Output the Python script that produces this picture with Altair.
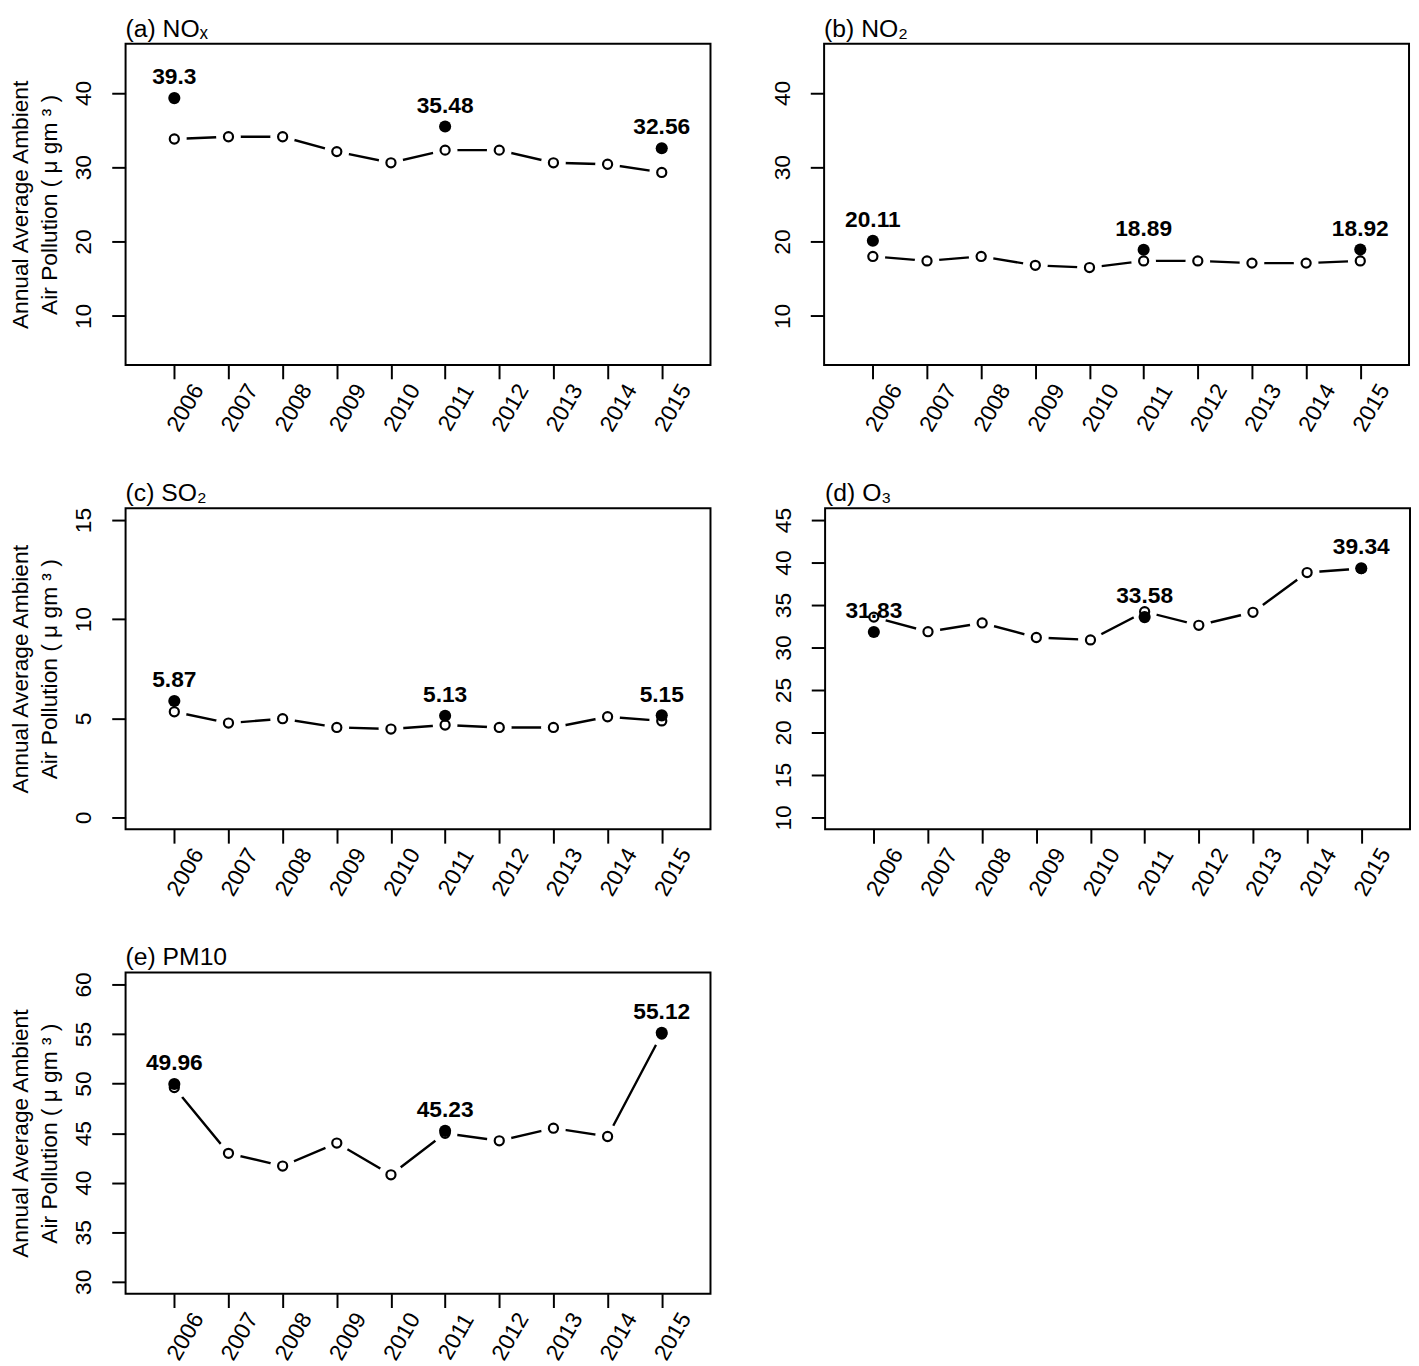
import altair as alt
import pandas as pd

FONT = "Liberation Sans"

years = list(range(2006, 2016))
peak_years = [2006, 2011, 2015]

nox_values = [33.8, 34.1, 34.1, 32.1, 30.6, 32.3, 32.3, 30.6, 30.4, 29.3]
nox_peaks = [39.3, 35.48, 32.56]

no2_values = [18.0, 17.4, 18.0, 16.8, 16.5, 17.4, 17.4, 17.1, 17.1, 17.4]
no2_peaks = [20.11, 18.89, 18.92]

so2_values = [5.33, 4.76, 4.98, 4.54, 4.46, 4.66, 4.54, 4.54, 5.08, 4.87]
so2_peaks = [5.87, 5.13, 5.15]

o3_values = [33.58, 31.86, 32.89, 31.18, 30.9, 34.22, 32.62, 34.15, 38.83, 39.3]
o3_peaks = [31.83, 33.58, 39.34]

pm10_values = [49.6, 42.96, 41.68, 44.0, 40.8, 44.98, 44.23, 45.5, 44.66, 55.0]
pm10_peaks = [49.96, 45.23, 55.12]

Y_TITLE = ["Annual Average Ambient", "Air Pollution ( \u03bc gm \u00b3 )"]


def panel(title, values, peaks, ydomain, yticks, show_ytitle):
    df = pd.DataFrame({"year": years, "value": values})
    pk = pd.DataFrame({"year": peak_years, "value": peaks,
                       "label": [f"{v:g}" for v in peaks]})
    x = alt.X("year:Q",
              scale=alt.Scale(domain=[2005.1, 2015.9], nice=False, zero=False),
              axis=alt.Axis(values=years, format="d", labelAngle=300,
                            labelAlign="center", labelBaseline="middle",
                            labelPadding=29, labelOffset=11),
              title=None)
    yaxis = alt.Axis(values=yticks, labelAngle=270, labelAlign="center",
                     labelBaseline="bottom", labelPadding=16)
    if show_ytitle:
        y = alt.Y("value:Q", scale=alt.Scale(domain=ydomain, nice=False, zero=False),
                  axis=yaxis, title=Y_TITLE)
    else:
        y = alt.Y("value:Q", scale=alt.Scale(domain=ydomain, nice=False, zero=False),
                  axis=yaxis, title=None)
    base = alt.Chart(df).encode(x=x, y=y)
    line = base.mark_line(color="black", strokeWidth=2.4)
    # white halo to leave the gaps between line and points (R type = "b")
    halo = base.mark_point(shape="circle", filled=True, fill="white",
                           strokeOpacity=0, size=625, opacity=1, fillOpacity=1)
    opn = base.mark_point(shape="circle", filled=False, stroke="black",
                          strokeWidth=2.2, size=85, opacity=1)
    pkbase = alt.Chart(pk).encode(x=x, y=y)
    filled = pkbase.mark_circle(color="black", size=150, opacity=1)
    text = pkbase.mark_text(font=FONT, fontSize=23, fontWeight="bold",
                            color="black", dy=-14, baseline="alphabetic").encode(
        text="label:N")
    return alt.layer(line, halo, opn, filled, text).properties(
        width=592, height=325, title=title)


a = panel("(a) NO\u2093", nox_values, nox_peaks, [3.4, 46.6], [10, 20, 30, 40], True)
b = panel("(b) NO\u2082", no2_values, no2_peaks, [3.4, 46.6], [10, 20, 30, 40], False)
c = panel("(c) SO\u2082", so2_values, so2_peaks, [-0.6, 15.6], [0, 5, 10, 15], True)
d = panel("(d) O\u2083", o3_values, o3_peaks, [8.6, 46.4],
          [10, 15, 20, 25, 30, 35, 40, 45], False)
e = panel("(e) PM10", pm10_values, pm10_peaks, [28.8, 61.2],
          [30, 35, 40, 45, 50, 55, 60], True)

chart = alt.vconcat(
    alt.hconcat(a, b, spacing=60),
    alt.hconcat(c, d, spacing=60),
    e,
    spacing=43,
).properties(padding=0, background="white").configure_view(
    stroke="black", strokeWidth=2
).configure_axis(
    domain=False, grid=False, ticks=True, tickColor="black", tickWidth=2,
    tickSize=14, labelFont=FONT, labelFontSize=23, labelColor="black",
    titleFont=FONT, titleFontSize=23, titleFontWeight="normal",
    titleColor="black", titlePadding=12, titleLineHeight=29
).configure_title(
    font=FONT, fontSize=25, fontWeight="normal", color="black",
    anchor="start", frame="group", offset=2
)

chart.save("out.html", embed_options={"renderer": "svg", "actions": False})
